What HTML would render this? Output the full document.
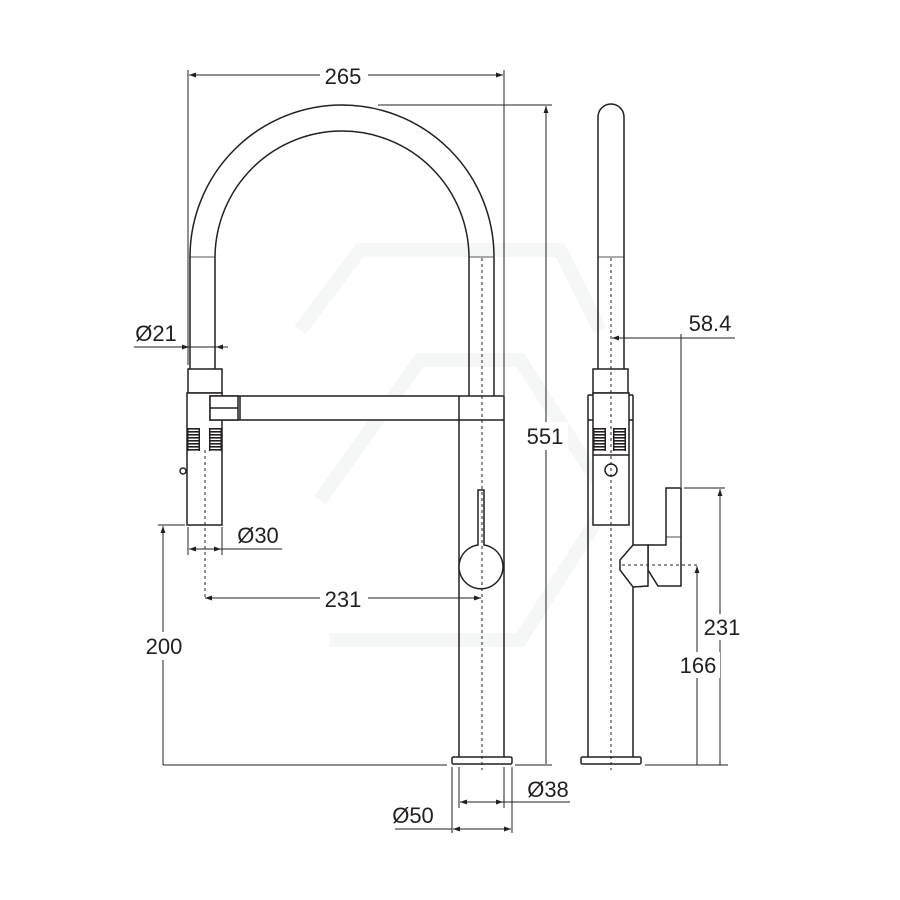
<!DOCTYPE html>
<html><head><style>body{margin:0;background:#fff}svg{display:block}</style></head><body>
<svg width="900" height="900" viewBox="0 0 900 900" xmlns="http://www.w3.org/2000/svg" font-family="Liberation Sans, sans-serif">
<defs>
<marker id="a" viewBox="0 0 10 10" refX="10" refY="5" markerWidth="7" markerHeight="7" orient="auto-start-reverse"><path d="M0,1.5L10,5L0,8.5z" fill="#231f20"/></marker>
</defs>
<g stroke="#f4f7f5" stroke-width="14" fill="none">
<path d="M300,330 L360,250 L560,250 L600,330"/>
<path d="M320,500 L420,360 L520,360 L610,500 L520,640 L330,640"/>
</g>
<g stroke="#231f20" stroke-width="1.5" fill="none">
<path d="M190,370 L190,257 A152,152 0 0 1 494,257 L494,396"/>
<path d="M215,370 L215,258 A127,127 0 0 1 469,258 L469,396"/>
<line x1="190" y1="257" x2="215" y2="257" stroke-width="0.8"/>
<line x1="469" y1="257" x2="494" y2="257" stroke-width="0.8"/>
<rect x="188" y="369" width="34" height="24" fill="#fff"/>
<rect x="187" y="393" width="35" height="132" fill="#fff"/>
<rect x="210" y="396" width="294" height="24" fill="#fff"/>
<line x1="240" y1="396" x2="240" y2="420"/>
<line x1="459" y1="396" x2="459" y2="420"/>
<rect x="210" y="396" width="28" height="24" fill="#fff"/>
<line x1="210" y1="408" x2="238" y2="408"/>
<path d="M459,420 L459,757 M504,420 L504,757"/>
<rect x="452" y="757" width="60" height="7" rx="1.5" fill="#fff"/>
<path d="M478,545 L478,490 L484,490 L484,545 A22,22 0 1 1 478,545z" fill="#fff"/>
<circle cx="183" cy="471" r="3"/>
</g>
<g stroke="#231f20" stroke-width="1.5" fill="none">
<path d="M598,370 L598,117 A13,13 0 0 1 624,117 L624,370"/>
<line x1="598" y1="257" x2="624" y2="257" stroke-width="0.8"/>
<rect x="593" y="369" width="35" height="24" fill="#fff"/>
<path d="M588,395 L588,764 M633,395 L633,545 M633,587 L633,757"/>
<path d="M588,395 L593,395 M588,420 L593,420 M628,395 L633,395 M628,420 L633,420"/>
<rect x="593" y="393" width="36" height="132" fill="#fff"/>
<line x1="593" y1="455" x2="629" y2="455"/>
<circle cx="611" cy="470" r="6"/>
<path d="M666,545 L666,488 L681,488 L681,586 L658,586 L648,570 L648,545 Z" fill="#fff"/>
<path d="M633,545 L648,545 L648,586 L633,587 L620,570 L620,560 Z" fill="#fff"/>
<line x1="666" y1="537" x2="681" y2="537" stroke-width="0.8"/>
<rect x="581" y="757" width="60" height="7" rx="1.5" fill="#fff"/>
</g>
<g fill="#231f20">
<g id="g1">
<rect x="187" y="428" width="13" height="1.6"/><rect x="187" y="431" width="13" height="1.6"/><rect x="187" y="434" width="13" height="1.6"/><rect x="187" y="437" width="13" height="1.6"/><rect x="187" y="440" width="13" height="1.6"/><rect x="187" y="443" width="13" height="1.6"/><rect x="187" y="446" width="13" height="1.6"/><rect x="187" y="449" width="13" height="1.6"/>
<rect x="187" y="428" width="1.5" height="23"/><rect x="198.5" y="428" width="1.5" height="23"/>
</g>
<use href="#g1" x="22"/>
<use href="#g1" x="406"/>
<use href="#g1" x="426"/>
</g>
<g stroke="#231f20" stroke-width="1" stroke-dasharray="3,3" fill="none">
<line x1="482" y1="258" x2="482" y2="770"/>
<line x1="205" y1="450" x2="205" y2="600"/>
<line x1="611" y1="258" x2="611" y2="770"/>
<line x1="622" y1="565" x2="700" y2="565"/>
</g>
<g stroke="#231f20" stroke-width="1" fill="none">
<line x1="188" y1="70" x2="188" y2="365"/>
<line x1="504" y1="70" x2="504" y2="395"/>
<line x1="189" y1="75" x2="503" y2="75" marker-start="url(#a)" marker-end="url(#a)"/>
<line x1="378" y1="105" x2="552" y2="105"/>
<line x1="546" y1="764" x2="546" y2="106" marker-end="url(#a)"/>
<line x1="163" y1="765" x2="447" y2="765"/>
<line x1="515" y1="765" x2="552" y2="765"/>
<line x1="134" y1="347" x2="189" y2="347" marker-end="url(#a)"/>
<line x1="228" y1="347" x2="216" y2="347" marker-end="url(#a)"/>
<line x1="189" y1="347" x2="216" y2="347"/>
<line x1="188" y1="527" x2="188" y2="555"/>
<line x1="222" y1="527" x2="222" y2="555"/>
<line x1="189" y1="549" x2="221" y2="549" marker-start="url(#a)" marker-end="url(#a)"/>
<line x1="221" y1="549" x2="282" y2="549"/>
<line x1="205" y1="598" x2="481" y2="598" marker-start="url(#a)" marker-end="url(#a)"/>
<line x1="158" y1="525" x2="185" y2="525"/>
<line x1="163" y1="765" x2="163" y2="526" marker-end="url(#a)"/>
<line x1="459" y1="767" x2="459" y2="808"/>
<line x1="504" y1="767" x2="504" y2="808"/>
<line x1="460" y1="802" x2="503" y2="802" marker-start="url(#a)" marker-end="url(#a)"/>
<line x1="503" y1="802" x2="570" y2="802"/>
<line x1="452" y1="767" x2="452" y2="833"/>
<line x1="512" y1="767" x2="512" y2="833"/>
<line x1="395" y1="829" x2="452" y2="829"/>
<line x1="453" y1="829" x2="511" y2="829" marker-start="url(#a)" marker-end="url(#a)"/>
<line x1="612" y1="338" x2="735" y2="338" marker-start="url(#a)"/>
<line x1="681" y1="334" x2="681" y2="487"/>
<line x1="645" y1="765" x2="728" y2="765"/>
<line x1="684" y1="488" x2="725" y2="488"/>
<line x1="720" y1="765" x2="720" y2="489" marker-end="url(#a)"/>
<line x1="697" y1="765" x2="697" y2="566" marker-end="url(#a)"/>
</g>
<g font-size="22" fill="#231f20" text-anchor="middle">
<rect x="320" y="62" width="48" height="26" fill="#fff"/>
<text x="343" y="84">265</text>
<rect x="524" y="422" width="44" height="28" fill="#fff"/>
<text x="545" y="444">551</text>
<text x="156" y="341">Ø21</text>
<text x="258" y="543">Ø30</text>
<rect x="320" y="585" width="48" height="26" fill="#fff"/>
<text x="343" y="607">231</text>
<rect x="140" y="632" width="48" height="28" fill="#fff"/>
<text x="164" y="654">200</text>
<text x="548" y="797">Ø38</text>
<text x="413" y="823">Ø50</text>
<text x="710" y="331">58.4</text>
<rect x="700" y="614" width="44" height="26" fill="#fff"/>
<text x="722" y="635">231</text>
<rect x="676" y="652" width="44" height="26" fill="#fff"/>
<text x="698" y="673">166</text>
</g>
</svg>
</body></html>
